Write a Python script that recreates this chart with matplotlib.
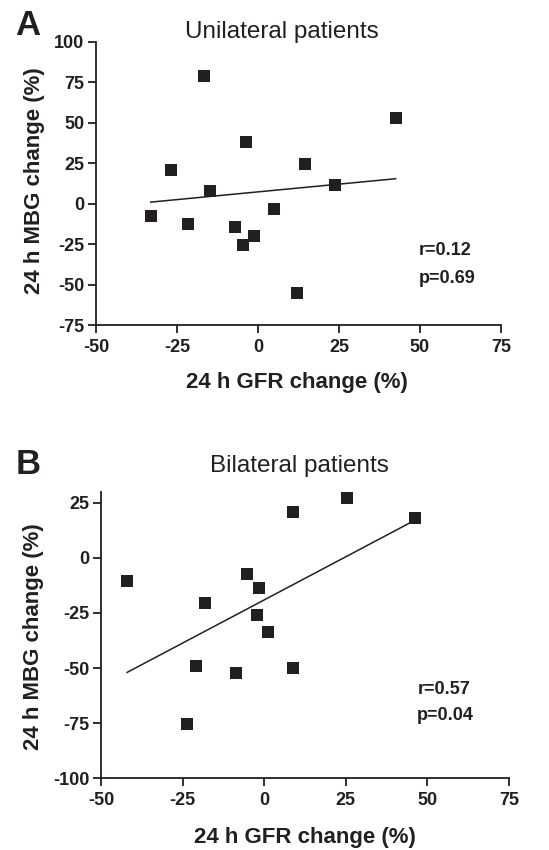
import numpy as np
import matplotlib
matplotlib.use("Agg")
import matplotlib.pyplot as plt

plt.rcParams['font.family'] = ['Liberation Sans', 'DejaVu Sans']
plt.rcParams['axes.unicode_minus'] = False

# Panel A - unilateral patients
uni_gfr = [-16.8, 42.5, -3.8, -27.0, 14.6, 23.8, -14.9, -33.1, -21.7, -7.1, 4.9, -1.3, -4.5, 11.9]
uni_mbg = [78.8, 53.0, 38.0, 20.5, 24.6, 11.3, 7.8, -7.7, -12.8, -14.5, -3.2, -19.8, -25.4, -55.5]

# Panel B - bilateral patients
bi_gfr = [25.4, 8.9, 46.3, -42.0, -5.2, -1.5, -18.2, -2.2, 1.1, -20.9, -8.5, 8.8, -23.6]
bi_mbg = [27.1, 20.6, 17.9, -10.6, -7.3, -13.6, -20.7, -26.0, -33.6, -49.1, -52.1, -50.0, -75.5]

x_ticks = [-50, -25, 0, 25, 50, 75]
uni_yticks = [-75, -50, -25, 0, 25, 50, 75, 100]
bi_yticks = [-100, -75, -50, -25, 0, 25]

stats_a = ("r=0.12", "p=0.69")
stats_b = ("r=0.57", "p=0.04")

col = '#231f20'

fig = plt.figure(figsize=(5.49, 8.5), dpi=100)
axA = fig.add_axes([96 / 549, 1 - 325 / 850, 405 / 549, 283.3 / 850])
axB = fig.add_axes([101 / 549, 1 - 778.3 / 850, 408 / 549, 286.6 / 850])


def draw(ax, x, y, yticks, ylim, stats, stat_pos, xlab_pos, ylab_pos):
    x = np.array(x)
    y = np.array(y)
    ax.plot(x, y, 's', color=col, markersize=8.5, markeredgewidth=0, zorder=3)
    # least squares line across the data range
    k, b = np.polyfit(x, y, 1)
    xx = np.array([x.min(), x.max()])
    ax.plot(xx, k * xx + b, color=col, lw=1.1, zorder=2)
    ax.set_xlim(-50, 75)
    ax.set_ylim(*ylim)
    ax.set_xticks(x_ticks)
    ax.set_yticks(yticks)
    for s in ['top', 'right']:
        ax.spines[s].set_visible(False)
    for s in ['left', 'bottom']:
        ax.spines[s].set_linewidth(1.3)
        ax.spines[s].set_color(col)
    ax.tick_params(length=5.8, width=1.3, color=col, labelsize=13, pad=2.5,
                   labelcolor=col)
    ax.tick_params(axis='x', pad=4)
    for lab in ax.get_xticklabels() + ax.get_yticklabels():
        lab.set_fontweight('bold')
    ax.set_xlabel("24 h GFR change (%)", fontsize=16, fontweight='bold', color=col)
    ax.set_ylabel("24 h MBG change (%)", fontsize=16, fontweight='bold', color=col)
    ax.xaxis.set_label_coords(*xlab_pos)
    ax.xaxis.label.set_va('baseline')
    ax.yaxis.set_label_coords(*ylab_pos)
    sx, sy1, sy2 = stat_pos
    ax.text(sx, sy1, stats[0], fontsize=13, fontweight='bold', va='baseline', color=col)
    ax.text(sx, sy2, stats[1], fontsize=13, fontweight='bold', va='baseline', color=col)


draw(axA, uni_gfr, uni_mbg, uni_yticks, (-75, 100), stats_a, (49.7, -31.8, -49.3),
     (0.4956, -0.2224), (-0.126, 0.508))
draw(axB, bi_gfr, bi_mbg, bi_yticks, (-100, 30), stats_b, (46.9, -61.6, -73.4),
     (0.5, -0.2257), (-0.14, 0.494))

fig.text(282 / 549, 1 - 38 / 850, "Unilateral patients", fontsize=17.5, ha='center',
         va='baseline', color=col)
fig.text(299 / 549, 1 - 471.7 / 850, "Bilateral patients", fontsize=17.5, ha='center',
         va='baseline', color=col)
fig.text(15 / 549, 1 - 35 / 850, "A", fontsize=25, fontweight='bold', va='baseline', color=col)
fig.text(16 / 549, 1 - 474 / 850, "B", fontsize=25, fontweight='bold', va='baseline', color=col)

fig.savefig('out.png', dpi=100)
